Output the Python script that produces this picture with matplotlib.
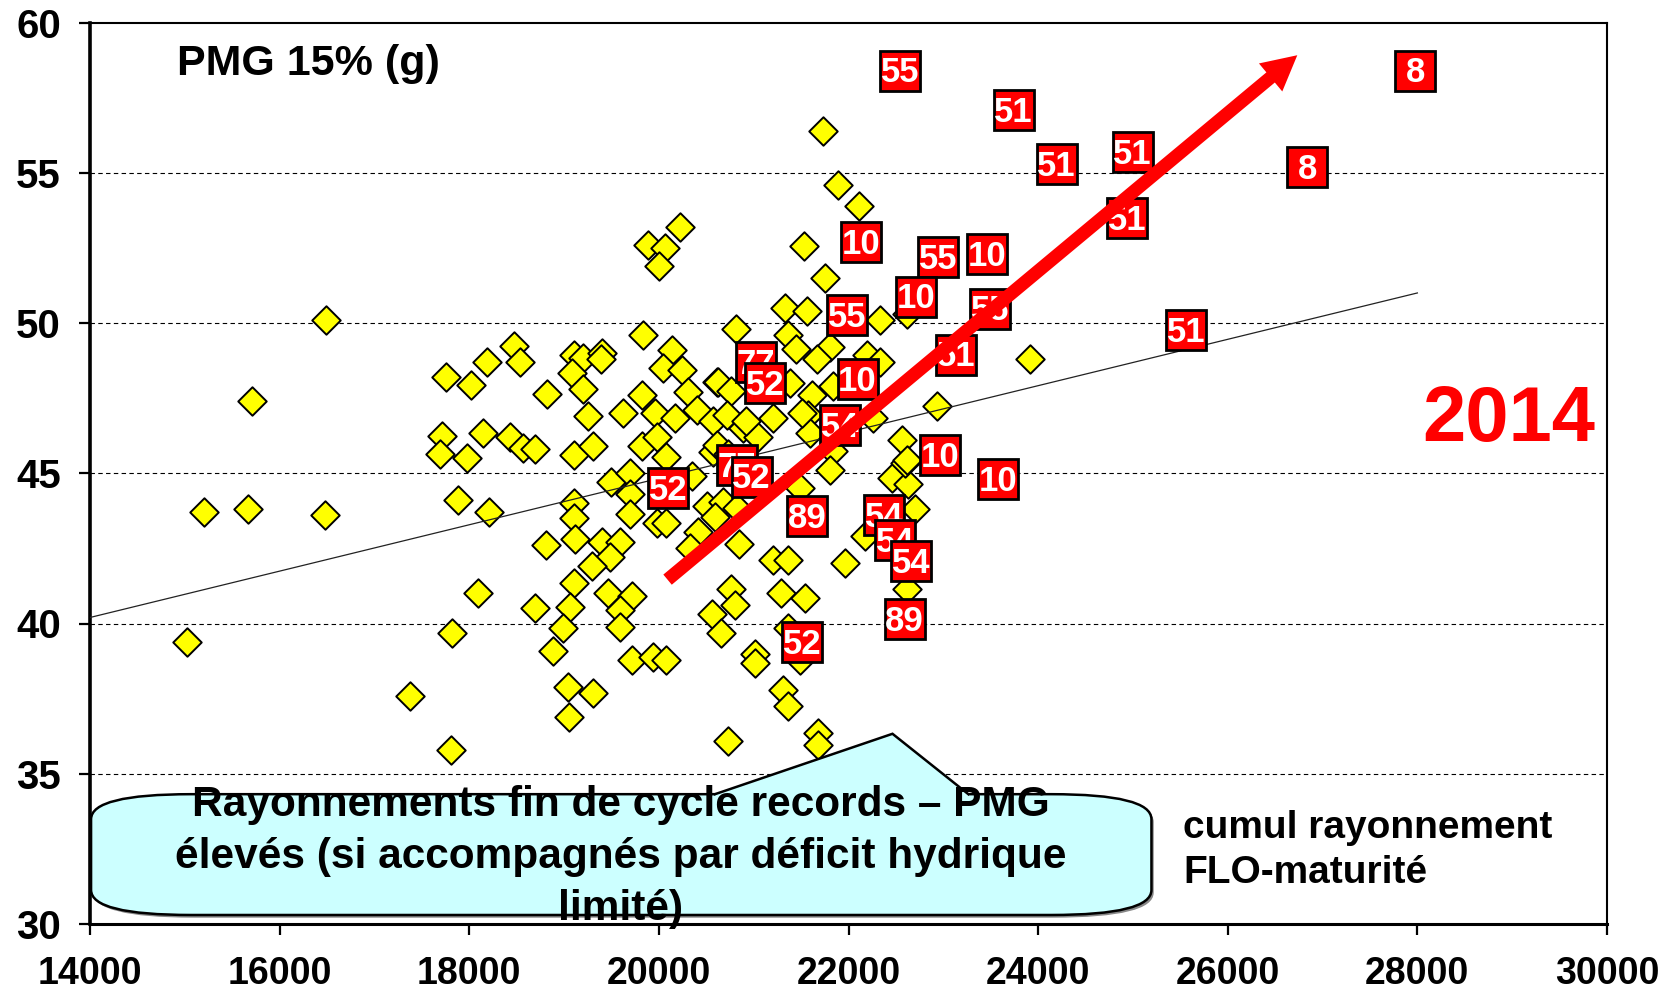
import matplotlib.pyplot as plt
from matplotlib.patches import FancyBboxPatch, Polygon, FancyArrowPatch

plt.rcParams['font.family'] = ['Liberation Sans', 'DejaVu Sans']
plt.rcParams['font.weight'] = 'bold'

# yellow diamonds: cumul rayonnement FLO-maturite vs PMG 15%
diam_x = [16490, 15710, 15200, 15670, 16480, 15020, 17370, 17810,
          20220, 19890, 20065, 20005, 19830, 18475, 18535, 18185, 17760, 18015,
          18815, 19100, 19205, 19395, 19080, 19205, 19390, 20135, 20045, 20240,
          19820, 20310, 20610, 19255, 19625, 19960, 20170, 20400, 20575, 17710,
          17690, 17975, 18150, 18430, 18570, 18695, 19100, 19310, 19820, 19975,
          20080, 20575,
          17885, 18210, 19105, 19105, 18810, 19115, 19395, 19590, 19485, 19290,
          19100, 19065, 18695, 18095, 19465, 19715, 19590, 19590, 18990, 18885,
          17815, 19715, 19940, 20080, 19045, 19300, 19055, 19500, 19695, 19695,
          19695, 19975, 20080, 20345, 20505, 20415, 20330, 20560, 20650,
          20680, 20590, 20820, 20840, 21205, 21365, 21290, 21540, 20765, 20805,
          21015, 21015, 21490, 21365, 21310, 21365, 20730, 21680, 21680, 21965,
          22175, 22700, 22615, 22455, 22630, 22595, 21490,
          21735, 21885, 22115, 21535, 21750, 21330, 21560, 22330, 20815, 21365,
          21445, 21805, 21665, 22190, 22330, 23915, 20625, 20765, 21385, 21840,
          21610, 22930, 21205, 20715, 20890, 21575, 21595, 22560, 22260, 21050,
          22615, 20610, 21840, 22615, 21505, 20915, 20730, 21800]
diam_y = [50.1, 47.4, 43.7, 43.8, 43.6, 39.4, 37.6, 35.8,
          53.2, 52.6, 52.5, 51.9, 49.6, 49.25, 48.7, 48.7, 48.2, 47.95,
          47.65, 48.95, 48.85, 49.0, 48.35, 47.8, 48.8, 49.1, 48.5, 48.45,
          47.6, 47.7, 48.05, 46.9, 47.0, 47.0, 46.85, 47.1, 46.75, 46.25,
          45.65, 45.5, 46.35, 46.2, 45.85, 45.8, 45.6, 45.9, 45.9, 46.2,
          45.55, 45.7,
          44.1, 43.7, 44.0, 43.5, 42.6, 42.8, 42.7, 42.7, 42.2, 41.9,
          41.35, 40.55, 40.5, 41.0, 41.0, 40.9, 40.45, 39.9, 39.85, 39.1,
          39.7, 38.8, 38.9, 38.8, 37.9, 37.7, 36.9, 44.7, 45.0, 44.3,
          43.65, 43.35, 43.35, 44.9, 43.9, 43.05, 42.5, 40.3, 39.7,
          44.05, 43.55, 43.85, 42.65, 42.1, 42.1, 41.0, 40.85, 41.15, 40.6,
          39.0, 38.7, 38.8, 39.85, 37.8, 37.25, 36.1, 36.35, 35.95, 42.0,
          42.9, 43.8, 41.15, 44.85, 44.65, 45.35, 44.5,
          56.4, 54.6, 53.9, 52.55, 51.5, 50.5, 50.4, 50.1, 49.8, 49.6,
          49.15, 49.2, 48.8, 48.95, 48.7, 48.8, 48.05, 47.75, 48.0, 47.9,
          47.6, 47.25, 46.85, 46.95, 46.5, 46.95, 46.35, 46.1, 46.85, 46.2,
          45.45, 45.95, 45.75, 50.3, 47.0, 46.75, 45.65, 45.1]

# 2014 records, labelled by departement
rec_x = [22547, 23743, 27977, 24195, 24996, 26837, 24940, 22129, 22942, 23461,
         22716, 23495, 21982, 25561, 23134, 21022, 21124, 22095, 21914, 22964,
         23574, 20819, 20977, 20097, 21564, 22377, 22490, 22659, 22592, 21508]
rec_y = [58.40, 57.08, 58.40, 55.30, 55.69, 55.19, 53.48, 52.69, 52.20, 52.30,
         50.88, 50.48, 50.27, 49.77, 48.95, 48.70, 47.99, 48.13, 46.60, 45.60,
         44.82, 45.28, 44.89, 44.50, 43.57, 43.61, 42.79, 42.07, 40.15, 39.37]
rec_lab = ['55', '51', '8', '51', '51', '8', '51', '10', '55', '10',
           '10', '55', '55', '51', '51', '77', '52', '10', '54', '10',
           '10', '77', '52', '52', '89', '54', '54', '54', '89', '52']

trend_x = [14000, 28000]
trend_y = [40.2, 51.0]

arrow_from = (20069, 41.4)
arrow_to = (26756, 58.97)

xticks = list(range(14000, 30001, 2000))
yticks = list(range(30, 61, 5))

fig = plt.figure(figsize=(16.79, 9.91), dpi=100)
ax = fig.add_axes([90 / 1679, 1 - 924 / 991, 1517 / 1679, 901.5 / 991])
ax.set_xlim(14000, 30000)
ax.set_ylim(30, 60)
ax.set_xticks(xticks)
ax.set_yticks(yticks)
ax.tick_params(axis='both', width=1.6, length=8, direction='out')
ax.tick_params(axis='y', pad=13, labelsize=29)
ax.tick_params(axis='x', pad=15, labelsize=27)
for side, lw in [('left', 2.6), ('bottom', 2.2), ('top', 1.5), ('right', 1.5)]:
    ax.spines[side].set_linewidth(lw)
for yv in yticks[1:-1]:
    ax.axhline(yv, color='black', lw=0.8, ls=(0, (4, 3)), zorder=1)

ax.scatter(diam_x, diam_y, marker='D', s=14.5 ** 2, c='#FFFF00',
           edgecolors='black', linewidths=1.4, zorder=3)
ax.plot(trend_x, trend_y, color='#222222', lw=0.9, zorder=4)

for i, (x, y, lab) in enumerate(zip(rec_x, rec_y, rec_lab)):
    z = 10 + i * 0.1
    ax.plot([x], [y], marker='s', ms=28.5, mfc='#FF0000', mec='black', mew=2,
            ls='none', zorder=z)
    ax.text(x, y - 0.08, lab, color='white', fontsize=25, ha='center', va='center',
            zorder=z + 0.05)

arr = FancyArrowPatch(arrow_from, arrow_to, arrowstyle='simple,head_length=1.0,head_width=1.05,tail_width=0.38',
                      mutation_scale=25, color='#FF0000', lw=0, zorder=20)
ax.add_patch(arr)

# callout
tr = ax.transAxes
shadow = FancyBboxPatch((0.0007 + 0.0015, 0.010 - 0.003), 0.699, 0.134,
                        boxstyle='round,pad=0,rounding_size=0.066', mutation_aspect=0.42,
                        transform=tr, fc='#888888', ec='none', zorder=24, clip_on=False)
ax.add_patch(shadow)
box = FancyBboxPatch((0.0007, 0.010), 0.699, 0.134,
                     boxstyle='round,pad=0,rounding_size=0.066', mutation_aspect=0.42,
                     transform=tr, fc='#CCFFFF', ec='black', lw=1.8, zorder=25, clip_on=False)
ax.add_patch(box)
ax.add_patch(Polygon([(0.413, 0.138), (0.412, 0.144), (0.529, 0.211), (0.579, 0.144), (0.578, 0.138)],
                     closed=True, transform=tr, fc='#CCFFFF', ec='none', zorder=26))
ax.plot([0.412, 0.529, 0.579], [0.144, 0.211, 0.144], transform=tr, color='black',
        lw=1.8, zorder=27, solid_joinstyle='miter')
ax.text(0.350, 0.0743,
        'Rayonnements fin de cycle records – PMG\nélevés (si accompagnés par déficit hydrique\nlimité)',
        transform=tr, ha='center', va='center', fontsize=30.5, linespacing=1.38,
        zorder=30, clip_on=False)

ax.text(0.0574, 0.954, 'PMG 15% (g)', transform=tr, ha='left', va='center', fontsize=31)
ax.text(0.935, 0.559, '2014', transform=tr, ha='center', va='center', fontsize=56,
        color='#FF0000')
ax.text(0.7205, 0.082, 'cumul rayonnement\nFLO-maturité', transform=tr, ha='left',
        va='center', fontsize=28, linespacing=1.32)

fig.savefig('out.png', dpi=100)
